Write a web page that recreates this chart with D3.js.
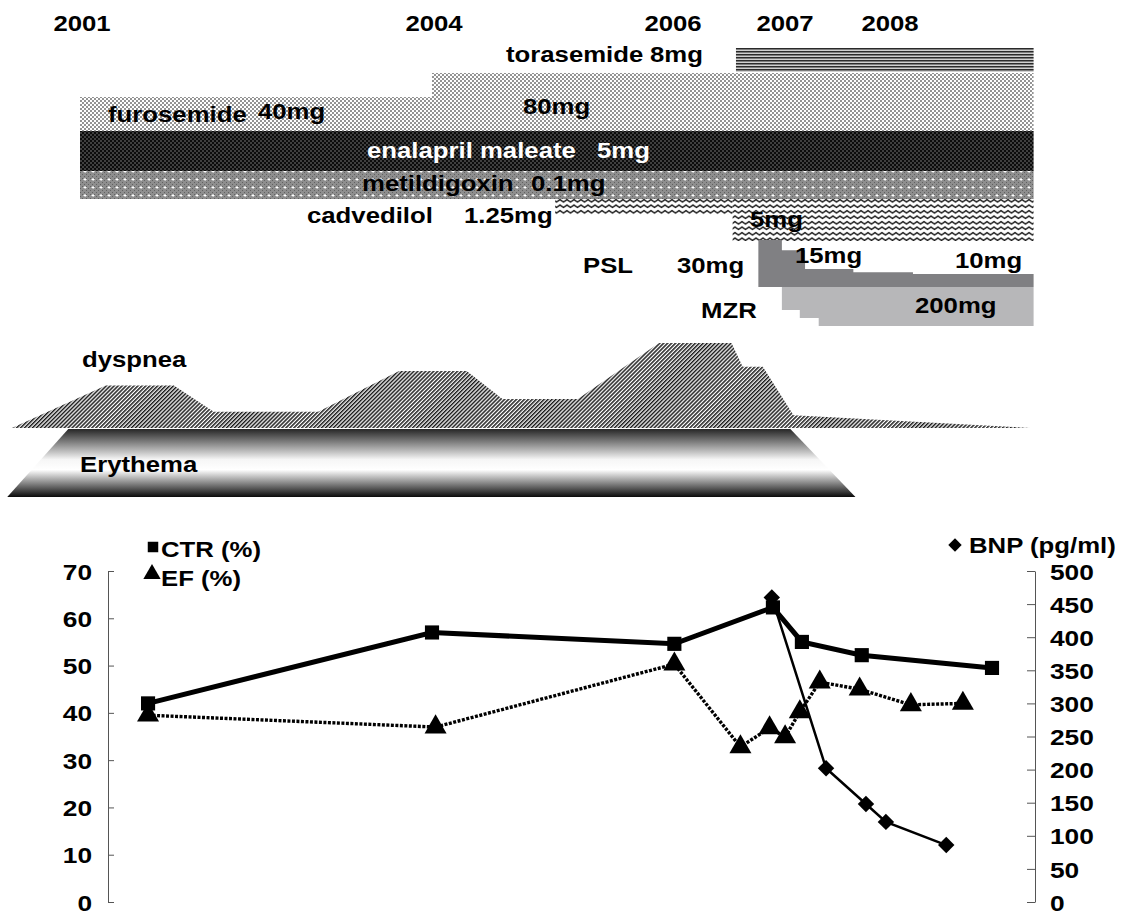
<!DOCTYPE html>
<html><head><meta charset="utf-8">
<script src="https://cdn.jsdelivr.net/npm/d3@7"></script>
<style>
body{margin:0;background:#fff}
svg{display:block}
text{font-family:"Liberation Sans",Arial,sans-serif;font-weight:bold;fill:#000}
</style>
</head><body>
<svg id="c" width="1124" height="918"></svg>
<script>
// ---------------- DATA ----------------
const yearLabels = [2001, 2004, 2006, 2007, 2008];
const yearAnchors = [2001, 2004, 2006, 2007, 2008, 2009];

// drug dose segments (start / end as decimal years)
const drugNames = ["torasemide", "furosemide", "furosemide", "enalapril maleate", "metildigoxin", "cadvedilol", "cadvedilol"];
const drugDoses = ["8mg", "40mg", "80mg", "5mg", "0.1mg", "1.25mg", "5mg"];
const drugStart = [2006.58, 2001.0, 2004.0, 2001.0, 2001.0, 2005.03, 2006.55];
const drugEnd   = [2009.4, 2004.0, 2009.4, 2009.4, 2009.4, 2006.55, 2009.4];

// PSL tapering (mg) and MZR (mg)
const pslDates = [2006.78, 2006.99, 2007.21, 2007.67, 2008.24, 2009.4];
const pslDose  = [30, 24, 13, 11, 10, 10];
const mzrDates = [2006.99, 2007.16, 2007.34, 2009.4];
const mzrDose  = [100, 150, 200, 200];

// dyspnea severity (arbitrary 0-10)
const dysDates = [2000.42, 2001.22, 2001.8, 2002.14, 2003.03, 2003.72, 2004.29, 2004.59, 2005.22, 2005.90, 2006.54, 2006.64, 2006.82, 2007.10, 2009.37];
const dysLevel = [0, 5, 5, 1.9, 1.9, 6.7, 6.7, 3.4, 3.4, 10, 10, 7.2, 7.2, 1.5, 0];

// erythema period (top edge and bottom edge)
const eryTop = [2000.9, 2007.07];
const eryBottom = [2000.38, 2007.69];

// CTR (%)
const ctrDates = [2001.58, 2004.0, 2006.03, 2006.91, 2007.18, 2007.75, 2009.0];
const ctrVals  = [42, 57, 54.6, 62.3, 55, 52.2, 49.5];
// EF (%)
const efDates = [2001.58, 2004.03, 2006.03, 2006.62, 2006.88, 2007.02, 2007.16, 2007.35, 2007.73, 2008.22, 2008.72];
const efVals  = [39.5, 37, 50.3, 32.8, 36.8, 34.9, 40.2, 46.5, 45, 41.7, 42];
// BNP (pg/ml)
const bnpDates = [2006.9, 2007.41, 2007.79, 2007.98, 2008.56];
const bnpVals  = [460, 202, 148, 121, 86];

const leftTicks = [0, 10, 20, 30, 40, 50, 60, 70];
const rightTicks = [0, 50, 100, 150, 200, 250, 300, 350, 400, 450, 500];

// ---------------- LAYOUT ----------------
const SX = 1.17;      // horizontal stretch of the original lettering
const FS = 22;
const svg = d3.select("#c");
const x = d3.scaleLinear().domain(yearAnchors).range([80, 432, 671, 783, 888, 992]);

function label(t, px, py, opt = {}) {
  return svg.append("text")
    .attr("transform", `translate(${px},${py}) scale(${SX},1)`)
    .attr("font-size", opt.fs || FS)
    .attr("text-anchor", opt.anchor || "start")
    .style("fill", opt.c || "#000")
    .text(t);
}

const bandY = [[48, 72], [97, 131], [73, 131], [131, 171], [171, 199], [199, 215], [199, 241]];
const fills = ["url(#pTor)", "url(#pFur)", "url(#pFur)", "url(#pEna)", "url(#pMet)", "url(#pCad)", "url(#pCad)"];

const defs = svg.append("defs");
let p = defs.append("pattern").attr("id", "pTor").attr("patternUnits", "userSpaceOnUse").attr("width", 4).attr("height", 3);
p.append("rect").attr("width", 4).attr("height", 3).attr("fill", "#cfcfcf");
p.append("rect").attr("width", 4).attr("height", 1.5).attr("fill", "#2a2a2a");
p = defs.append("pattern").attr("id", "pFur").attr("patternUnits", "userSpaceOnUse").attr("width", 4).attr("height", 4);
p.append("rect").attr("width", 4).attr("height", 4).attr("fill", "#fff");
p.append("circle").attr("cx", 1).attr("cy", 1).attr("r", 0.95).attr("fill", "#666");
p.append("circle").attr("cx", 3).attr("cy", 3).attr("r", 0.95).attr("fill", "#666");
p = defs.append("pattern").attr("id", "pEna").attr("patternUnits", "userSpaceOnUse").attr("width", 4).attr("height", 4);
p.append("rect").attr("width", 4).attr("height", 4).attr("fill", "#0c0c0c");
p.append("circle").attr("cx", 1).attr("cy", 1).attr("r", 0.7).attr("fill", "#9a9a9a");
p.append("circle").attr("cx", 3).attr("cy", 3).attr("r", 0.7).attr("fill", "#9a9a9a");
p = defs.append("pattern").attr("id", "pMet").attr("patternUnits", "userSpaceOnUse").attr("width", 8).attr("height", 8);
p.append("rect").attr("width", 8).attr("height", 8).attr("fill", "#8e8e8e");
[[0,0],[2,2],[4,0],[6,2],[0,4],[2,6],[4,4],[6,6]].forEach(([a,b]) => p.append("rect").attr("x", a).attr("y", b).attr("width", 1).attr("height", 1).attr("fill", "#626262"));
p.append("rect").attr("x", 4.5).attr("y", 2).attr("width", 1).attr("height", 3).attr("fill", "#fff");
p.append("rect").attr("x", 3.5).attr("y", 3).attr("width", 3).attr("height", 1).attr("fill", "#fff");
p = defs.append("pattern").attr("id", "pCad").attr("patternUnits", "userSpaceOnUse").attr("width", 7).attr("height", 5.5);
p.append("rect").attr("width", 7).attr("height", 5.5).attr("fill", "#fff");
p.append("path").attr("d", "M-1.75,4 L0,1.5 L3.5,4 L7,1.5 L8.75,4").attr("stroke", "#1a1a1a").attr("stroke-width", 1.5).attr("fill", "none");
p = defs.append("pattern").attr("id", "pDys").attr("patternUnits", "userSpaceOnUse").attr("width", 2.8).attr("height", 6).attr("patternTransform", "rotate(45)");
p.append("rect").attr("width", 2.8).attr("height", 6).attr("fill", "#fff");
p.append("rect").attr("width", 1.5).attr("height", 6).attr("fill", "#1a1a1a");
const g = defs.append("linearGradient").attr("id", "gEry").attr("x1", 0).attr("y1", 0).attr("x2", 0).attr("y2", 1);
[[0, "#262626"], [0.45, "#f6f6f6"], [0.6, "#ffffff"], [1, "#0a0a0a"]].forEach(([o, c]) => g.append("stop").attr("offset", o).attr("stop-color", c));

// year labels
yearLabels.forEach(d => label(d, x(d) + 2, 31, {anchor: "middle"}));

// drug bands
svg.append("g").selectAll("rect").data(drugNames).join("rect")
  .attr("x", (d, i) => x(drugStart[i]))
  .attr("width", (d, i) => x(drugEnd[i]) - x(drugStart[i]))
  .attr("y", (d, i) => bandY[i][0])
  .attr("height", (d, i) => bandY[i][1] - bandY[i][0])
  .attr("fill", (d, i) => fills[i]);

// PSL / MZR
const yPSL = d3.scaleLinear().domain([10, 30]).range([274, 240]);
const yMZR = d3.scaleLinear().domain([100, 200]).range([310, 326]);
svg.append("path").datum(pslDates.map((d, i) => [d, pslDose[i]]))
  .attr("fill", "#808083")
  .attr("d", d3.area().curve(d3.curveStepAfter).x(d => x(d[0])).y0(287).y1(d => yPSL(d[1])));
svg.append("path").datum(mzrDates.map((d, i) => [d, mzrDose[i]]))
  .attr("fill", "#b7b7b9")
  .attr("d", d3.area().curve(d3.curveStepAfter).x(d => x(d[0])).y0(287).y1(d => yMZR(d[1])));

// drug text labels
const drugLabels = [
  {t: "torasemide", x: 506, y: 62}, {t: "8mg", x: 650, y: 62},
  {t: "furosemide", x: 108, y: 122}, {t: "40mg", x: 258, y: 119},
  {t: "80mg", x: 523, y: 114},
  {t: "enalapril maleate", x: 367, y: 158, c: "#fff"}, {t: "5mg", x: 597, y: 158, c: "#fff"},
  {t: "metildigoxin", x: 362, y: 191}, {t: "0.1mg", x: 531, y: 191},
  {t: "cadvedilol", x: 307, y: 223}, {t: "1.25mg", x: 464, y: 223},
  {t: "5mg", x: 750, y: 227},
  {t: "PSL", x: 583, y: 273}, {t: "30mg", x: 677, y: 273},
  {t: "15mg", x: 795, y: 263}, {t: "10mg", x: 955, y: 268},
  {t: "MZR", x: 701, y: 318}, {t: "200mg", x: 915, y: 313}
];
drugLabels.forEach(d => label(d.t, d.x, d.y, {c: d.c}));

// dyspnea
const yDys = d3.scaleLinear().domain([0, 10]).range([428, 343]);
svg.append("path").datum(dysDates.map((d, i) => [d, dysLevel[i]]))
  .attr("fill", "url(#pDys)")
  .attr("d", d3.area().x(d => x(d[0])).y0(428).y1(d => yDys(d[1])));
label("dyspnea", 82, 367);

// erythema
svg.append("path")
  .attr("fill", "url(#gEry)")
  .attr("d", `M${x(eryTop[0])},429 L${x(eryTop[1])},429 L${x(eryBottom[1])},497 L${x(eryBottom[0])},497 Z`);
label("Erythema", 80, 472);

// ---------------- LINE CHART ----------------
const yL = d3.scaleLinear().domain([0, 70]).range([902, 571]);
const yR = d3.scaleLinear().domain([0, 500]).range([902, 571]);

const axL = svg.append("g").attr("transform", "translate(108,0)")
  .call(d3.axisLeft(yL).tickValues(leftTicks).tickSizeInner(-6).tickSizeOuter(0).tickPadding(16));
const axR = svg.append("g").attr("transform", "translate(1035,0)")
  .call(d3.axisRight(yR).tickValues(rightTicks).tickSizeInner(-8).tickSizeOuter(0).tickPadding(15));
[axL, axR].forEach(a => {
  a.selectAll("path,line").attr("stroke", "#555").attr("stroke-width", 1);
  a.selectAll("text").attr("font-size", 22.5).attr("font-family", "'Liberation Sans',Arial,sans-serif")
    .attr("font-weight", "bold").attr("fill", "#000").attr("dy", "0.36em")
    .attr("x", function() { return +d3.select(this).attr("x") / SX; })
    .attr("transform", `scale(${SX},1)`);
});

const lineL = d3.line().x(d => x(d[0])).y(d => yL(d[1]));
const lineR = d3.line().x(d => x(d[0])).y(d => yR(d[1]));
const ef = efDates.map((d, i) => [d, efVals[i]]);
const ctr = ctrDates.map((d, i) => [d, ctrVals[i]]);
const bnp = bnpDates.map((d, i) => [d, bnpVals[i]]);

svg.append("path").datum(ef).attr("d", lineL).attr("fill", "none").attr("stroke", "#000")
  .attr("stroke-width", 3.4).attr("stroke-dasharray", "3,1.5");
svg.append("path").datum(ctr).attr("d", lineL).attr("fill", "none").attr("stroke", "#000").attr("stroke-width", 5);
svg.append("path").datum(bnp).attr("d", lineR).attr("fill", "none").attr("stroke", "#000").attr("stroke-width", 2.5);

svg.append("g").selectAll("path").data(ef).join("path")
  .attr("transform", d => `translate(${x(d[0])},${yL(d[1])})`)
  .attr("d", d3.symbol(d3.symbolTriangle, 210)).attr("fill", "#000");
svg.append("g").selectAll("path").data(ctr).join("path")
  .attr("transform", d => `translate(${x(d[0])},${yL(d[1])})`)
  .attr("d", d3.symbol(d3.symbolSquare, 200)).attr("fill", "#000");
svg.append("g").selectAll("path").data(bnp).join("path")
  .attr("transform", d => `translate(${x(d[0])},${yR(d[1])}) rotate(45)`)
  .attr("d", d3.symbol(d3.symbolSquare, 135)).attr("fill", "#000");

// legends
svg.append("path").attr("transform", "translate(153,547)").attr("d", d3.symbol(d3.symbolSquare, 110)).attr("fill", "#000");
label("CTR (%)", 161, 557);
svg.append("path").attr("transform", "translate(152,574)").attr("d", d3.symbol(d3.symbolTriangle, 130)).attr("fill", "#000");
label("EF (%)", 161, 586);
svg.append("path").attr("transform", "translate(955,545) rotate(45)").attr("d", d3.symbol(d3.symbolSquare, 90)).attr("fill", "#000");
label("BNP (pg/ml)", 969, 553);
</script>
</body></html>
